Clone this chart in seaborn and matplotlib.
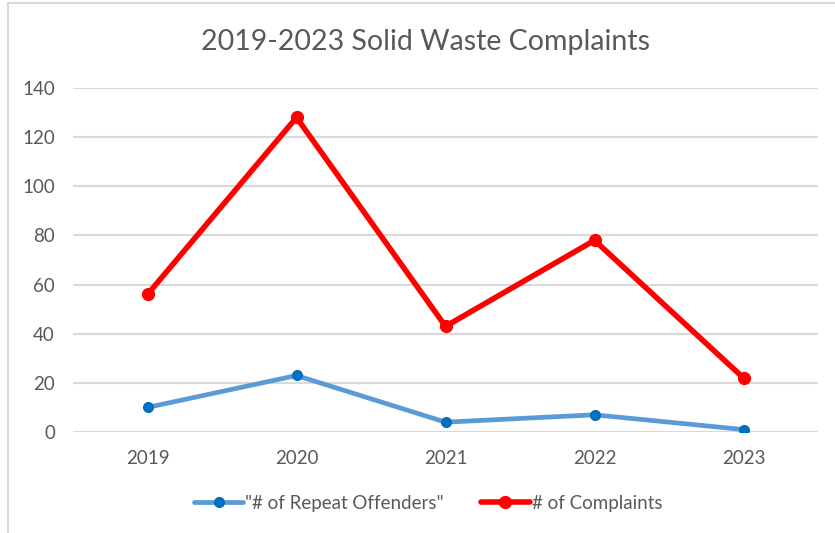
import matplotlib
matplotlib.use("Agg")
import matplotlib.pyplot as plt
import seaborn as sns
import pandas as pd
from matplotlib.patches import Rectangle

years = ["2019", "2020", "2021", "2022", "2023"]
repeat_offenders = [10, 23, 4, 7, 1]
complaints = [56, 128, 43, 78, 22]
series_names = ['"# of Repeat Offenders"', "# of Complaints"]
y_ticks = [0, 20, 40, 60, 80, 100, 120, 140]

TEXT = "#595959"
GRID = "#D9D9D9"


def build_frame():
    rows = []
    for name, values in zip(series_names, [repeat_offenders, complaints]):
        for year, v in zip(years, values):
            rows.append({"year": year, "value": v, "series": name})
    return pd.DataFrame(rows)


def plot_chart(df):
    sns.set_style("white")
    plt.rcParams["font.family"] = ["Lato", "DejaVu Sans"]

    fig = plt.figure(figsize=(8.35, 5.33), dpi=100)
    ax = fig.add_axes([73 / 835, 1 - 432 / 533, 745 / 835, 344 / 533])

    palette = {series_names[0]: "#5B9BD5", series_names[1]: "#FF0000"}
    sns.lineplot(data=df, x="year", y="value", hue="series", palette=palette,
                 sort=False, ax=ax, legend=False)
    ax.lines[0].set_linewidth(3.4)
    ax.lines[1].set_linewidth(4.0)

    # markers drawn on top
    ax.plot(years, repeat_offenders, linestyle="none", marker="o",
            markersize=7, color="#0070C0", zorder=5)
    ax.plot(years, complaints, linestyle="none", marker="o",
            markersize=8.5, color="#FF0000", zorder=5)

    ax.set_xlim(-0.5, 4.5)
    ax.set_ylim(0, 140)
    ax.set_yticks(y_ticks)
    ax.yaxis.grid(True, color=GRID, linewidth=1.5)
    ax.set_axisbelow(True)
    for s in ax.spines.values():
        s.set_visible(False)
    ax.tick_params(axis="both", length=0, labelsize=13.5, colors=TEXT)
    ax.tick_params(axis="y", pad=13)
    ax.tick_params(axis="x", pad=13)
    ax.set_xlabel("")
    ax.set_ylabel("")

    fig.text(0.51, 1 - 42 / 533, "2019-2023 Solid Waste Complaints",
             ha="center", va="center", fontsize=20.5, color=TEXT)

    # legend
    handles = [
        plt.Line2D([], [], color="#5B9BD5", linewidth=3.4, marker="o",
                   markersize=7, markerfacecolor="#0070C0",
                   markeredgecolor="#0070C0"),
        plt.Line2D([], [], color="#FF0000", linewidth=4.0, marker="o",
                   markersize=8.5),
    ]
    fig.legend(handles, series_names, loc="center",
               bbox_to_anchor=(0.513, 1 - 503 / 533), ncol=2, frameon=False,
               fontsize=13.5, labelcolor=TEXT, handlelength=2.6,
               handletextpad=0.1, columnspacing=2.0)

    # chart border (left and top)
    fig.patches.append(Rectangle((8 / 835, -0.1), 1.2, 1 - 3 / 533 + 0.1,
                                 transform=fig.transFigure, fill=False,
                                 edgecolor=GRID, linewidth=1.5))

    fig.savefig("out.png", dpi=100)
    plt.close(fig)


def main():
    df = build_frame()
    plot_chart(df)


if __name__ == "__main__":
    main()
